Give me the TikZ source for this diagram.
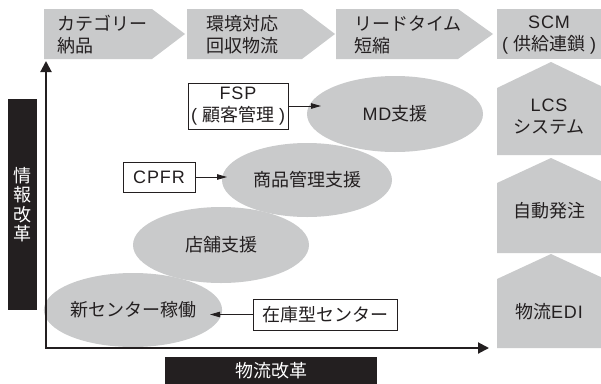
\documentclass[tikz,border=0pt]{standalone}
\usepackage{fontspec}
\setmainfont{Noto Sans CJK JP}
\newfontfamily\latf{Liberation Sans}[LetterSpace=5]
\usetikzlibrary{shapes.geometric,arrows.meta}
\definecolor{gfill}{HTML}{C9CACB}
\definecolor{ink}{HTML}{231F20}
\newcommand{\lt}[1]{{\latf #1}}
\tikzset{
  every node/.style={font=\fontsize{18}{22}\selectfont, text=ink},
  band/.style={fill=gfill},
  chevtext/.style={anchor=west, align=left, inner sep=0pt},
  blob/.style={ellipse, fill=gfill, minimum width=176pt, minimum height=76pt, inner sep=0pt},
  tagbox/.style={draw=ink, fill=white, line width=0.8pt, inner sep=0pt, align=center},
  link/.style={draw=ink, line width=0.8pt, -{Triangle[length=10pt,width=5.5pt]}},
  axisline/.style={draw=ink, line width=2pt, line join=miter},
  blackbox/.style={fill=ink, inner sep=0pt, text=white, align=center},
}
\begin{document}
\begin{tikzpicture}[x=1pt,y=-1pt]
\useasboundingbox (0,0) rectangle (601,383);
% top chevrons
\fill[band] (44,9) -- (152,9) -- (185,34) -- (152,59) -- (44,59) -- cycle;
\fill[band] (187,9) -- (302,9) -- (335,34) -- (302,59) -- (187,59) -- cycle;
\fill[band] (336,9) -- (458,9) -- (493,34) -- (458,59) -- (336,59) -- cycle;
\fill[band] (497,9) rectangle (605,59);
\node[chevtext] (c1) at (57,35) {カテゴリー\\納品};
\node[chevtext] (c2) at (206,35) {環境対応\\回収物流};
\node[chevtext] (c3) at (354,35) {リードタイム\\短縮};
\node[inner sep=0pt, align=center] (scm) at (549,35) {\lt{SCM}\\\lt{(}\hspace{5pt}供給連鎖\hspace{5pt}\lt{)}};
% right column
\fill[band] (497,155) -- (497,88) -- (551,62) -- (605,88) -- (605,155) -- cycle;
\fill[band] (497,253) -- (497,183) -- (551,158) -- (605,183) -- (605,253) -- cycle;
\fill[band] (497,348) -- (497,279) -- (551,254) -- (605,279) -- (605,348) -- cycle;
\node[inner sep=0pt, align=center] (lcs) at (549,117) {\lt{LCS}\\システム};
\node[inner sep=0pt] (jido) at (549,211) {自動発注};
\node[inner sep=0pt] (edi) at (549,312) {物流\lt{EDI}};
% ellipses
\node[blob] (md) at (395,114) {\lt{MD}支援};
\node[blob, minimum width=170pt, minimum height=74pt] (shohin) at (307,180) {商品管理支援};
\node[blob] (tenpo) at (221,245) {店舗支援};
\node[blob, minimum height=74pt] (shin) at (133,310) {新センター稼働};
% boxes
\node[tagbox, minimum width=100pt, minimum height=46pt] (fsp) at (238,106) {\lt{FSP}\\\lt{(}\hspace{5pt}顧客管理\hspace{5pt}\lt{)}};
\node[tagbox, minimum width=72pt, minimum height=30pt] (cpfr) at (159,177) {\lt{CPFR}};
\node[tagbox, minimum width=144pt, minimum height=31pt] (zaiko) at (325,314.5) {在庫型センター};
% connectors
\coordinate (mdin) at (321,106);
\coordinate (shohinin) at (227,177);
\coordinate (shinin) at (210,314.5);
\draw[link] (fsp.east) -- (mdin);
\draw[link] (cpfr.east) -- (shohinin);
\draw[link] (zaiko.west) -- (shinin);
% axes
\coordinate (origin) at (46,348);
\coordinate (ytop) at (46,61);
\coordinate (xend) at (489,348);
\draw[axisline, {Triangle[length=11pt,width=11pt]}-{Triangle[length=11pt,width=11pt]}] (ytop) -- (origin) -- (xend);
% black labels
\node[blackbox, minimum width=29pt, minimum height=211pt, font=\fontsize{18}{19.5}\selectfont] (joho) at (22.5,204.5) {情\\報\\改\\革};
\node[blackbox, minimum width=212pt, minimum height=28pt] (butsuryu) at (271,371) {物流改革};
\end{tikzpicture}
\end{document}
